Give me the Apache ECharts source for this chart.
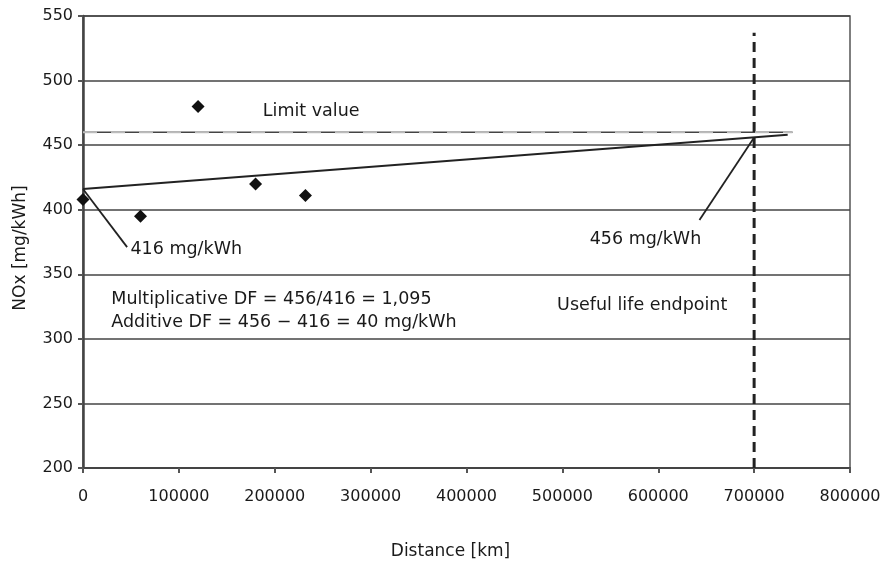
<!DOCTYPE html>
<html><head><meta charset="utf-8">
<script src="https://cdn.jsdelivr.net/npm/echarts@6/dist/echarts.min.js"></script>
<style>html,body{margin:0;padding:0;background:#fff}#c{width:881px;height:561px}</style>
</head><body><div id="c"></div>
<script>
// Data
var measurements = [[0, 408], [60000, 395], [120000, 480], [180000, 420], [232000, 411]];
var trendLine = [[0, 416], [735000, 458]];
var limitLine = [[0, 460], [740000, 460]];
var endpointLine = [[700000, 200], [700000, 537]];
var leader416 = [[0, 416], [46000, 371]];
var leader456 = [[700000, 456], [643000, 392]];
var xTicks = [0, 100000, 200000, 300000, 400000, 500000, 600000, 700000, 800000];
var yTicks = [200, 250, 300, 350, 400, 450, 500, 550];
var annotations = [
  {value: [187000, 476], text: 'Limit value'},
  {value: [49000, 369], text: '416 mg/kWh'},
  {value: [528000, 377], text: '456 mg/kWh'},
  {value: [29000, 330.5], text: 'Multiplicative DF = 456/416 = 1,095'},
  {value: [29000, 313], text: 'Additive DF = 456 \u2212 416 = 40 mg/kWh'},
  {value: [494000, 326], text: 'Useful life endpoint'}
];

var FONT = '"DejaVu Sans", Arial, Helvetica, sans-serif';
var chart = echarts.init(document.getElementById('c'), null, {renderer: 'canvas'});
function lineSeries(data, opts) {
  return Object.assign({
    type: 'line', data: data, symbol: 'none', silent: true, animation: false,
    lineStyle: {color: '#333', width: 1.6}, z: 3
  }, opts || {});
}
chart.setOption({
  animation: false,
  backgroundColor: '#fff',
  grid: {left: 83, right: 31, top: 16, bottom: 93, show: true, borderColor: '#555', borderWidth: 1.5,
    containLabel: false, outerBoundsMode: 'none'},
  xAxis: {
    type: 'value', min: xTicks[0], max: xTicks[xTicks.length - 1], interval: 100000,
    name: 'Distance [km]', nameLocation: 'middle', nameGap: 75,
    nameTextStyle: {fontFamily: FONT, fontSize: 17, color: '#1a1a1a', padding: [0, 32, 0, 0]},
    axisLine: {show: true, lineStyle: {color: '#444', width: 2}},
    axisTick: {show: true, length: 5, lineStyle: {color: '#555', width: 2}},
    axisLabel: {fontFamily: FONT, fontSize: 16, color: '#1a1a1a', margin: 21,
      formatter: function (v) { return String(v); }},
    splitLine: {show: false}
  },
  yAxis: {
    type: 'value', min: yTicks[0], max: yTicks[yTicks.length - 1], interval: 50,
    name: 'NOx [mg/kWh]', nameLocation: 'middle', nameGap: 54, nameRotate: 90,
    nameTextStyle: {fontFamily: FONT, fontSize: 17, color: '#1a1a1a', padding: [0, 12, 0, 0]},
    axisLine: {show: true, lineStyle: {color: '#444', width: 2.5}},
    axisTick: {show: true, length: 5, lineStyle: {color: '#555', width: 2}},
    axisLabel: {fontFamily: FONT, fontSize: 16, color: '#1a1a1a', margin: 10,
      formatter: function (v) { return String(v); }},
    splitLine: {show: true, lineStyle: {color: '#444', width: 1.6}}
  },
  series: [
    lineSeries(limitLine, {lineStyle: {color: '#444', width: 1.6}}),
    lineSeries(limitLine, {lineStyle: {color: '#bbb', width: 2, type: [14, 14]}, z: 4}),
    lineSeries(trendLine, {lineStyle: {color: '#222', width: 2}}),
    lineSeries(endpointLine, {lineStyle: {color: '#222', width: 3, type: [10, 6]}}),
    lineSeries(leader416, {lineStyle: {color: '#222', width: 1.8}}),
    lineSeries(leader456, {lineStyle: {color: '#222', width: 1.8}}),
    {
      type: 'scatter', data: measurements, symbol: 'diamond', symbolSize: 13,
      itemStyle: {color: '#111', opacity: 1}, z: 5, silent: true
    },
    {
      type: 'scatter', symbol: 'circle', symbolSize: 1, silent: true, z: 6,
      itemStyle: {color: 'rgba(0,0,0,0)', opacity: 1},
      data: annotations.map(function (a) { return {value: a.value, name: a.text}; }),
      label: {
        show: true, position: 'right', distance: 0, formatter: '{b}',
        fontFamily: FONT, fontSize: 17.5, color: '#1a1a1a', align: 'left', verticalAlign: 'middle'
      }
    }
  ]
});
</script></body></html>
